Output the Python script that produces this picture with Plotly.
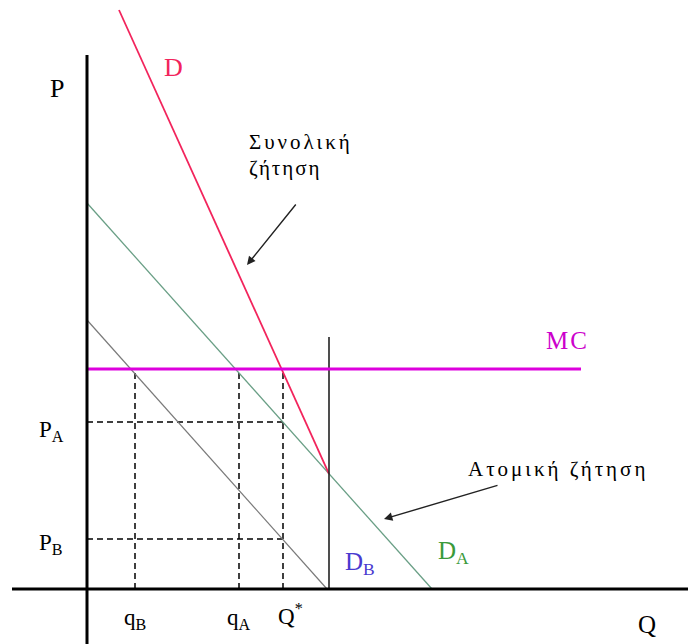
import plotly.graph_objects as go

# Demand curves (Q, P) endpoints
q_da = [0.0, 17.25]
p_da = [19.3, 0.0]
q_db = [0.0, 12.0]
p_db = [13.45, 0.0]
q_d = [1.6, 12.1]          # aggregate demand: from top down to the kink
p_d = [28.95, 5.76]

mc_level = 11.0
mc_q_end = 24.7

q_kink = 12.1
kink_top = 12.6

q_b, q_a, q_star = 2.4, 7.6, 9.8
p_a, p_b = 8.35, 2.5

x_min, x_max = -4.35, 30.05
y_min, y_max = -2.75, 29.45
x_axis_start = -3.75
y_axis_top = 26.7

SERIF = "Liberation Serif"

fig = go.Figure()


def line(xs, ys, color, width, dash="solid"):
    fig.add_trace(go.Scatter(x=xs, y=ys, mode="lines",
                             line=dict(color=color, width=width, dash=dash),
                             hoverinfo="skip", showlegend=False))


# dashed guides
for q in (q_b, q_a, q_star):
    line([q, q], [0, mc_level], "black", 1.5, "6px,4px")
for p in (p_a, p_b):
    line([0, q_star], [p, p], "black", 1.5, "6px,4px")

# demand curves
line(q_db, p_db, "#7a7a7a", 1.2)
line(q_da, p_da, "#6a9f86", 1.3)
line(q_d, p_d, "#f2245c", 1.8)

# vertical line at the end of D_B
line([q_kink, q_kink], [0, kink_top], "#222222", 1.6)

# marginal cost
line([0, mc_q_end], [mc_level, mc_level], "#dd00dd", 3)

# axes
line([x_axis_start, x_max], [0, 0], "black", 3)
line([0, 0], [y_min, y_axis_top], "black", 3)

annotations = []


def label(x, y, text, color="black", size=20, xanchor="center", spacing=0):
    if spacing:
        text = f'<span style="letter-spacing:{spacing}px">{text}</span>'
    annotations.append(dict(x=x, y=y, text=text, showarrow=False,
                            xanchor=xanchor, yanchor="middle",
                            font=dict(family=SERIF, size=size, color=color)))


label(-1.5, 25.05, "P", size=26)
label(4.3, 26.1, "D", color="#f2245c", size=26)
label(8.0, 22.35, "Συνολική", size=21, xanchor="left", spacing=3)
label(8.0, 21.05, "ζήτηση", size=21, xanchor="left", spacing=2)
label(24.0, 12.45, "MC", color="#cc00cc", size=25, spacing=2)
label(23.55, 6.0, "Ατομική ζήτηση", size=21, spacing=3)
label(13.65, 1.3, "D<sub>B</sub>", color="#4a3ad0", size=25)
label(18.3, 1.85, "D<sub>A</sub>", color="#3a9a3a", size=25)
label(-1.8, 7.9, "P<sub>A</sub>", size=23)
label(-1.8, 2.25, "P<sub>B</sub>", size=23)
label(q_b, -1.5, "q<sub>B</sub>", size=23)
label(q_a, -1.5, "q<sub>A</sub>", size=23)
label(q_star + 0.35, -1.25, "Q<sup>*</sup>", size=23)
label(28.0, -1.75, "Q", size=25)

# arrows pointing at the curves
for (hx, hy, tx, ty) in [(8.0, 16.2, 10.5, 19.3), (14.85, 3.5, 20.6, 5.2)]:
    annotations.append(dict(x=hx, y=hy, ax=tx, ay=ty, xref="x", yref="y",
                            axref="x", ayref="y", text="", showarrow=True,
                            arrowhead=2, arrowsize=1.2, arrowwidth=1.4,
                            arrowcolor="#222222"))

fig.update_layout(
    width=688, height=644,
    margin=dict(l=0, r=0, t=0, b=0),
    paper_bgcolor="white", plot_bgcolor="white",
    font=dict(family=SERIF),
    xaxis=dict(range=[x_min, x_max], visible=False, fixedrange=True),
    yaxis=dict(range=[y_min, y_max], visible=False, fixedrange=True),
    annotations=annotations,
    showlegend=False,
)

fig.write_html("out.html")
